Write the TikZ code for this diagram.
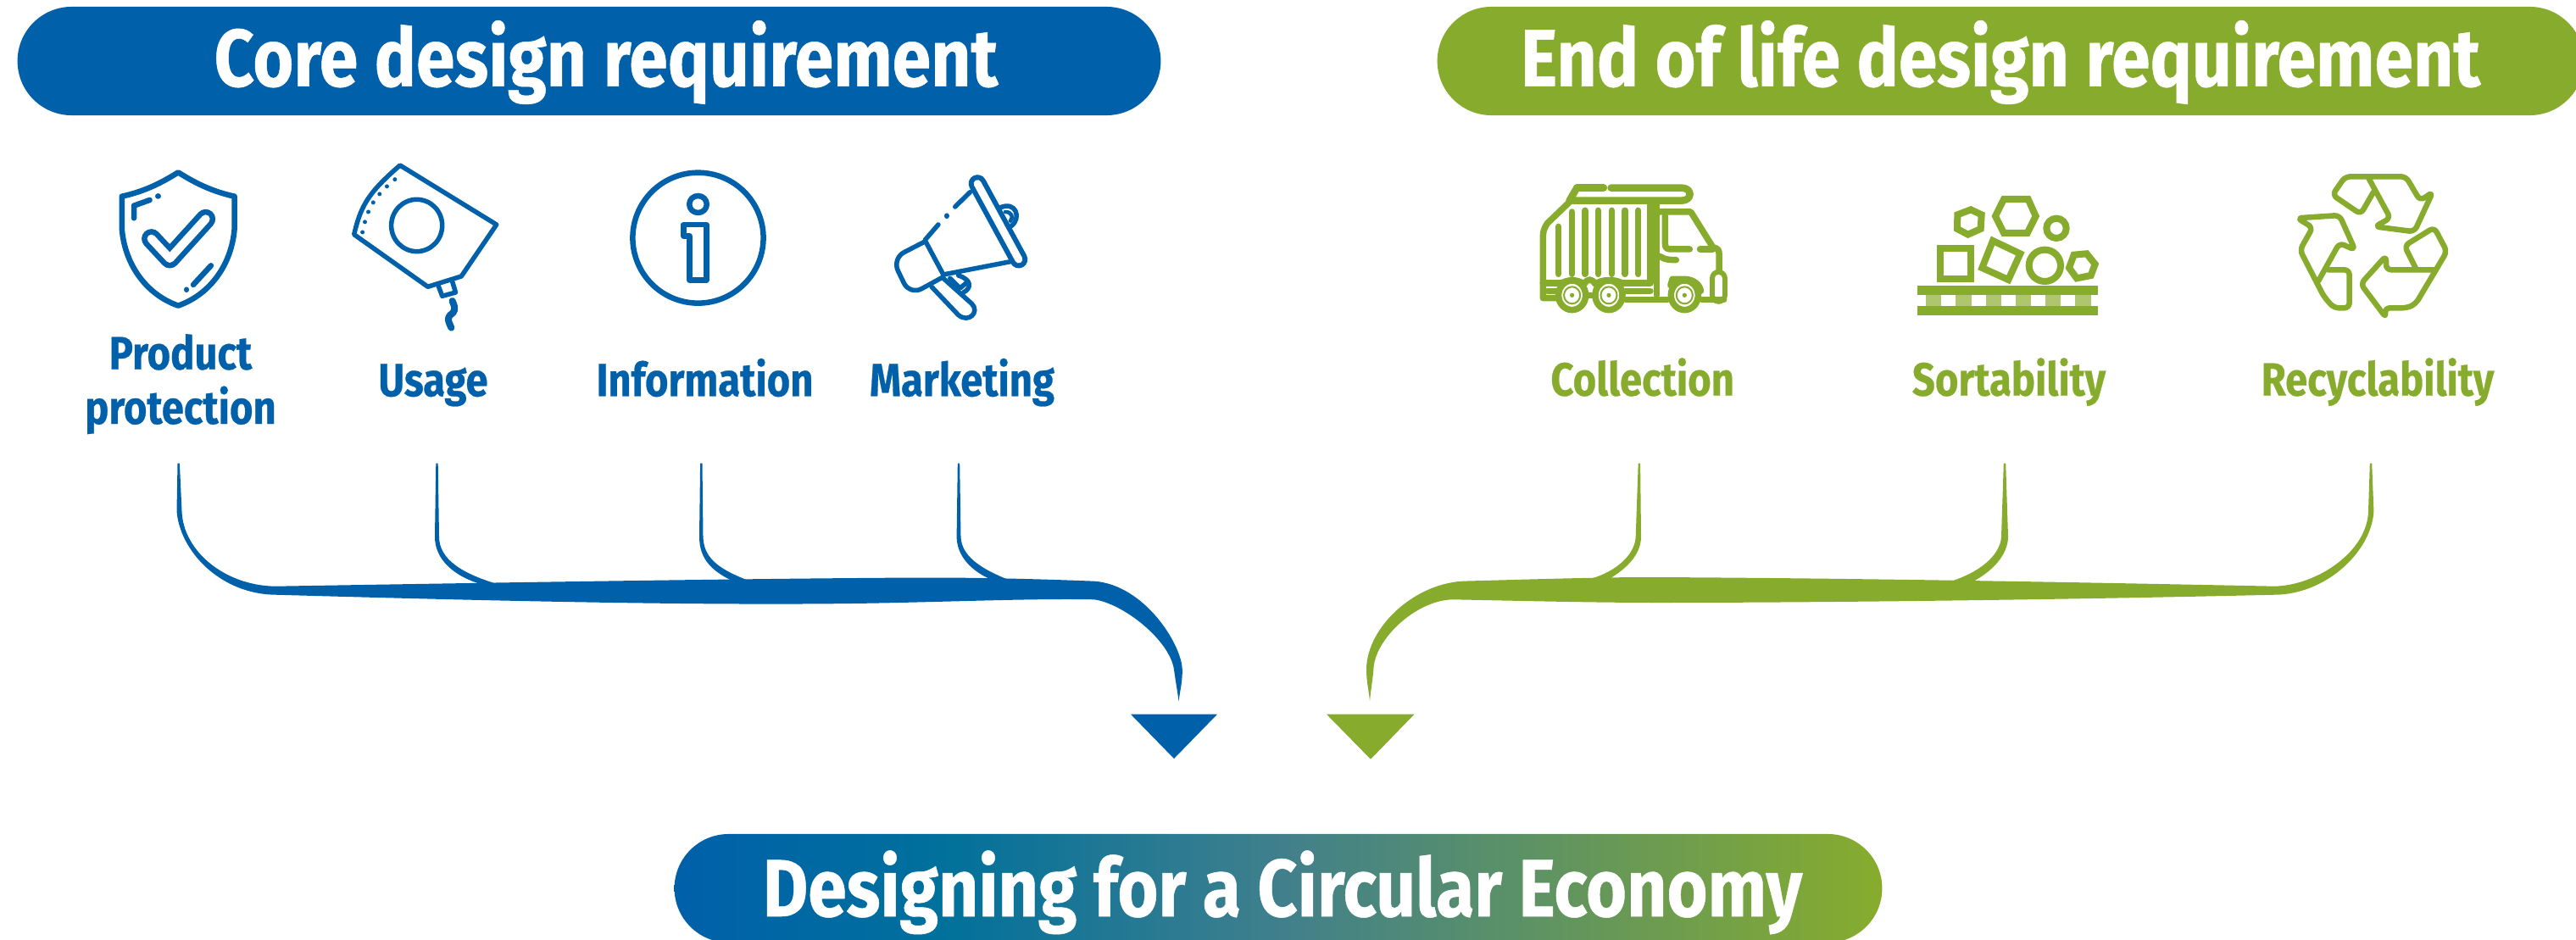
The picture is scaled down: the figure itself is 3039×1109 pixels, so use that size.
\documentclass[tikz,border=0pt]{standalone}
\usepackage{fontspec}
\setmainfont[FakeStretch=0.86,BoldFeatures={FakeBold=0.5}]{Fira Sans}
\usetikzlibrary{shapes.misc}

\tikzset{
  pill/.style={rounded rectangle,inner sep=0pt,outer sep=0pt,minimum height=1.28cm},
  head_text/.style={anchor=base,inner sep=0pt,text=white,font=\fontsize{27.2}{30}\selectfont\bfseries},
  item_text/.style={anchor=base,inner sep=0pt,font=\fontsize{15.6}{18}\selectfont\bfseries},
  icon_line/.style={line width=0.065cm,line cap=round,line join=round},
  icon_thin/.style={line width=0.055cm,line cap=round,line join=round},
  icon_fat/.style={line width=0.08cm,line join=miter},
}

\begin{document}
\begin{tikzpicture}[x=0.01cm,y=-0.01cm]

% ------------------------------------------------ theme colors
\definecolor{cd_blue}{RGB}{0,96,170}     %#0060AA
\definecolor{cd_green}{RGB}{135,172,45}  %#87AC2D
\definecolor{cd_light}{RGB}{175,197,110} %#AFC56E
\pgfdeclarehorizontalshading{econ_shade}{100bp}{rgb(0bp)=(0,.376,.667); rgb(25bp)=(0,.376,.667); rgb(36bp)=(0,.44,.61); rgb(50bp)=(.25,.5,.55); rgb(75bp)=(.53,.675,.176); rgb(100bp)=(.53,.675,.176)}

\useasboundingbox (0,0) rectangle (3039,1109);

% ------------------------------------------------ title bars
\node[pill,fill=cd_blue,minimum width=13.48cm] (core_pill) at (695,72) {};
\node[pill,fill=cd_green,minimum width=13.52cm] (life_pill) at (2372,72) {};
\node[pill,shading=econ_shade,minimum width=14.24cm] (econ_pill) at (1508,1048) {};

\node[head_text] (core_text) at (715,101.7) {Core design requirement};
\node[head_text] (life_text) at (2360,101.7) {End of life design requirement};
\node[head_text] (econ_text) at (1513,1081) {Designing for a Circular Economy};

% ------------------------------------------------ item labels
\node[item_text,text=cd_blue] (product_text) at (213,435.7) {Product};
\node[item_text,text=cd_blue] (protect_text) at (213,500) {protection};
\node[item_text,text=cd_blue] (usage_text) at (511,467.3) {Usage};
\node[item_text,text=cd_blue] (info_text) at (831.5,467.3) {Information};
\node[item_text,text=cd_blue] (market_text) at (1135,467.3) {Marketing};

\node[item_text,text=cd_green] (collect_text) at (1937.7,466.7) {Collection};
\node[item_text,text=cd_green] (sort_text) at (2370,466.7) {Sortability};
\node[item_text,text=cd_green] (recycle_text) at (2805,466.7) {Recyclability};

% ------------------------------------------------ shield
\begin{scope}[shift={(60,170)},xscale=0.3953,yscale=0.3333,cd_blue]
\draw[icon_line] (380,100) .. controls (320,145) and (270,170) .. (212,185) -- (212,300) .. controls (220,420) and (280,530) .. (380,572) .. controls (480,530) and (540,420) .. (548,300) -- (548,185) .. controls (490,170) and (440,145) .. (380,100) -- cycle;
\draw[line width=0.23cm,line cap=round,line join=round] (300,335) -- (355,405) -- (462,265);
\draw[line width=0.1cm,line cap=round,line join=round,white] (300,335) -- (355,405) -- (462,265);
\draw[icon_line] (248,262) -- (248,218) -- (295,198);
\draw[icon_line] (320,184) -- (320,184.5);
\draw[icon_line] (425,498) -- (478,430);
\draw[icon_line] (405,515) -- (405,515.5);
\end{scope}

% ------------------------------------------------ pouch
\begin{scope}[shift={(60,170)},xscale=0.3953,yscale=0.3333,cd_blue]
\draw[icon_thin] (905,320) .. controls (925,215) and (950,170) .. (1042,75) -- (1330,285) -- (1225,468) -- (1125,505) -- cycle;
\draw[icon_thin] (1092,288) circle [x radius=76,y radius=92];
\draw[icon_thin] (1155,497) -- (1168,538) -- (1208,525) -- (1197,482);
\draw[line width=0.05cm,line cap=round,dash pattern=on 0pt off 0.125cm] (930,312) .. controls (945,225) and (965,180) .. (1048,105);
\draw[icon_line,line width=0.08cm] (1198,555) .. controls (1210,585) and (1205,595) .. (1192,605) .. controls (1180,620) and (1190,635) .. (1195,650);
\end{scope}

% ------------------------------------------------ info
\begin{scope}[shift={(680,170)},xscale=0.3953,yscale=0.3333,cd_blue]
\draw[icon_line] (363,332) circle [x radius=195,y radius=231];
\draw[icon_line] (363,213) circle [x radius=26,y radius=30];
\draw[icon_line] (320,285) -- (388,285) -- (388,482) -- (338,482) -- (338,325) -- (320,325) -- cycle;
\end{scope}

% ------------------------------------------------ megaphone
\begin{scope}[shift={(680,170)},xscale=0.3953,yscale=0.3333,cd_blue]
\draw[line width=0.21cm,line cap=round] (1197,140) -- (1320,408);
\draw[line width=0.09cm,line cap=round,white] (1197,140) -- (1320,408);
\draw[icon_thin] (1175,170) -- (1130,222);
\draw[icon_line] (1105,254) -- (1105,254.5);
\draw[icon_thin] (1080,285) -- (1040,340) -- (1095,462) -- (1300,415);
\draw[icon_thin,rounded corners=0.16cm] (1040,345) -- (942,405) -- (995,535) -- (1095,470);
\draw[icon_thin] (1060,505) -- (1140,605) .. controls (1170,635) and (1205,595) .. (1180,565) -- (1095,475);
\draw[icon_thin] (1140,465) .. controls (1180,480) and (1180,510) .. (1155,525);
\draw[icon_thin] (1115,475) -- (1145,510) -- (1165,490);
\draw[icon_thin] (1265,225) .. controls (1310,200) and (1330,260) .. (1298,290);
\draw[icon_line,line width=0.045cm] (1280,240) .. controls (1300,240) and (1305,260) .. (1295,272);
\end{scope}

% ------------------------------------------------ truck
\begin{scope}[shift={(1780,180)},xscale=0.4337,yscale=0.3333,cd_green,icon_line/.append style={line width=0.075cm}]
\draw[icon_line,line width=0.085cm] (185,125) -- (258,125);
\draw[icon_line,line width=0.085cm] (278,125) -- (470,125) .. controls (500,125) and (500,170) .. (470,170) -- (165,170) -- (185,125);
\draw[icon_line] (165,175) -- (105,250) .. controls (95,270) and (93,280) .. (93,300) -- (93,515) -- (130,515);
\draw[icon_line] (93,462) -- (150,462);
\draw[icon_line] (385,175) -- (385,462) -- (300,462);
\draw[icon_line] (402,175) -- (402,505);
\draw[icon_line] (135,262) -- (135,430);
\draw[icon_line] (172,210) -- (172,430);
\draw[icon_line] (207,205) -- (207,430);
\draw[icon_line] (243,205) -- (243,430);
\draw[icon_line] (280,205) -- (280,430);
\draw[icon_line] (316,205) -- (316,430);
\draw[icon_line] (352,205) -- (352,430);
\draw[icon_line] (402,210) -- (495,210) -- (555,335) .. controls (570,340) and (572,345) .. (572,360) -- (572,430);
\draw[icon_line] (425,225) -- (425,320) .. controls (425,340) and (430,342) .. (445,342) -- (492,342);
\draw[icon_line] (520,342) -- (555,342);
\draw[icon_line] (412,368) .. controls (425,380) and (440,380) .. (455,380);
\draw[line width=0.21cm,line cap=round] (570,445) -- (570,505);
\draw[line width=0.09cm,line cap=round,white] (570,445) -- (570,505);
\draw[icon_line] (318,490) -- (385,490);
\draw[icon_line] (318,520) -- (432,520);
\draw[icon_line] (525,520) -- (585,520);
\draw[icon_line] (205,505) -- (235,505);
\draw[icon_line] (130,490) -- (105,490);
\draw[icon_line] (440,470) -- (445,448) -- (480,448) .. controls (505,450) and (520,470) .. (522,490);
\draw[icon_line] (140,465) .. controls (160,448) and (185,448) .. (205,465) .. controls (215,445) and (225,445) .. (235,465) .. controls (255,448) and (285,448) .. (305,460);
\foreach \wx in {172,272,478} {
  \draw[icon_line,fill=white] (\wx,505) circle [x radius=37,y radius=52];
  \draw[line width=0.02cm] (\wx,505) circle [x radius=22,y radius=30];
  \fill (\wx,505) circle [x radius=6,y radius=8];
}
\end{scope}

% ------------------------------------------------ conveyor
\begin{scope}[shift={(2240,210)},scale=0.3333,cd_green]
\fill (67,380) rectangle (705,413);
\fill (67,452) rectangle (705,485);
\fill[cd_light] (95,413) rectangle (150,452);
\fill[cd_light] (200,413) rectangle (258,452);
\fill[cd_light] (308,413) rectangle (362,452);
\fill[cd_light] (415,413) rectangle (468,452);
\fill[cd_light] (520,413) rectangle (573,452);
\fill[cd_light] (625,413) rectangle (680,452);
\draw[icon_fat] (146,248) rectangle (256,358);
\draw[icon_fat] (333,222) -- (430,268) -- (388,360) -- (295,318) -- cycle;
\draw[icon_fat] (517,310) circle [radius=56];
\draw[icon_fat] (558,178) circle [radius=35];
\draw[icon_fat] (372,75) -- (458,75) -- (485,135) -- (455,195) -- (372,195) -- (342,135) -- cycle;
\draw[icon_fat] (255,112) -- (293,130) -- (290,180) -- (245,200) -- (207,180) -- (208,130) -- cycle;
\draw[icon_fat] (665,268) -- (695,305) -- (680,345) -- (630,355) -- (603,318) -- (620,272) -- cycle;
\end{scope}

% ------------------------------------------------ recycling arrows
\begin{scope}[shift={(2620,180)},scale=0.3333,cd_green]
\draw[icon_line,rounded corners=0.06cm] (520,85) -- (600,232) -- (545,262) -- (685,280) -- (750,140) -- (705,170) -- (655,85) -- (440,85) -- (395,150) -- (495,218) -- (540,140);
\draw[icon_line,rounded corners=0.06cm] (345,455) -- (420,320) -- (475,345) -- (420,222) -- (270,232) -- (325,265) -- (280,345) -- (365,510) -- (400,550) -- (455,550) -- (455,415) -- (380,415);
\draw[icon_line,rounded corners=0.06cm] (690,410) -- (650,330) -- (755,265) -- (800,350) -- (690,535) -- (660,550) -- (580,550) -- (585,585) -- (495,465) -- (585,365) -- (585,415) -- (760,415);
\end{scope}

% ------------------------------------------------ blue connector
\coordinate (product_top) at (210.7,546.7);
\coordinate (usage_top) at (515.5,546.7);
\coordinate (info_top) at (827.3,546.7);
\coordinate (market_top) at (1131,546.7);
\coordinate (core_tip) at (1390.6,827.3);

\fill[cd_blue] (product_top) ++(-1.2,0) -- (208.5,603) .. controls (212,650) and (260,701) .. (325,701.7)
  .. controls (550,708) and (850,716) .. (1060,711) .. controls (1150,709) and (1230,706) .. (1291,707.3)
  .. controls (1325,712) and (1380,755) .. (1385,790) .. controls (1387,805) and (1389,815) .. (core_tip)
  .. controls (1392,815) and (1395,805) .. (1394.8,790)
  .. controls (1394,760) and (1350,690) .. (1291,685.7)
  .. controls (1200,682) and (1120,681) .. (1050,681.7) .. controls (850,683) and (550,688) .. (325,691.7)
  .. controls (265,691) and (216,650) .. (214.5,603) -- (211.9,546.7) -- cycle;
\fill[cd_blue] (usage_top) ++(-1.2,0) -- (513,633) .. controls (513,660) and (535,680) .. (570,690) -- (590,690) .. controls (545,677) and (518,660) .. (518,633) -- (516.7,546.7) -- cycle;
\fill[cd_blue] (info_top) ++(-1.2,0) -- (825,633) .. controls (825,660) and (840,675) .. (870,688) -- (891,688) .. controls (850,673) and (830,660) .. (829.5,633) -- (828.5,546.7) -- cycle;
\fill[cd_blue] (market_top) ++(-1.2,0) -- (1128.6,633) .. controls (1128.6,655) and (1145,675) .. (1175,686) -- (1195,686) .. controls (1155,671) and (1134,655) .. (1133.5,633) -- (1132.2,546.7) -- cycle;
\fill[cd_blue] (1334,842.7) -- (1436,842.7) -- (1385,895) -- cycle;

% ------------------------------------------------ green connector
\coordinate (collect_top) at (1933.9,546.7);
\coordinate (sort_top) at (2365,546.7);
\coordinate (recycle_top) at (2797,546.7);
\coordinate (life_tip) at (1616,827.3);

\fill[cd_green] (recycle_top) ++(1.2,0) -- (2800.4,603) .. controls (2798,650) and (2745,701) .. (2684,701.7)
  .. controls (2500,706) and (2200,711) .. (1954.6,711) .. controls (1880,711) and (1800,709) .. (1714,707.3)
  .. controls (1670,708) and (1621,755) .. (1620.4,790) .. controls (1619,805) and (1617,815) .. (life_tip)
  .. controls (1615,815) and (1612,805) .. (1612,790)
  .. controls (1612,740) and (1670,686) .. (1730.7,685.5)
  .. controls (1790,684) and (1880,681) .. (1946,681) .. controls (2200,682) and (2500,688) .. (2684,691.7)
  .. controls (2735,690) and (2793,650) .. (2794,603) -- (2795.8,546.7) -- cycle;
\fill[cd_green] (collect_top) ++(-1.2,0) -- (1929.7,633) .. controls (1929,655) and (1905,677) .. (1868,685) -- (1895,685) .. controls (1918,672) and (1936,655) .. (1936,633) -- (1935.1,546.7) -- cycle;
\fill[cd_green] (sort_top) ++(-1.2,0) -- (2361,633) .. controls (2360,655) and (2335,677) .. (2294,688) -- (2324,688) .. controls (2350,675) and (2369,655) .. (2369,633) -- (2366.2,546.7) -- cycle;
\fill[cd_green] (1565,842.7) -- (1668.5,842.7) -- (1617,895.7) -- cycle;

\end{tikzpicture}
\end{document}
